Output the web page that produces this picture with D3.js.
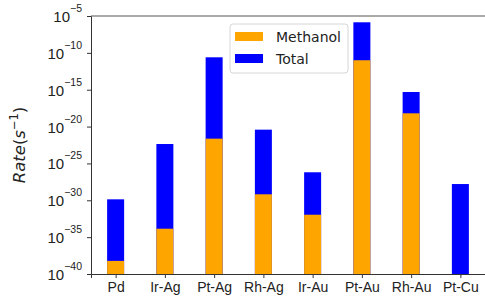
<!DOCTYPE html>
<html>
<head>
<meta charset="utf-8">
<script src="https://cdn.jsdelivr.net/npm/d3@7"></script>
<style>
  body { margin: 0; background: #fff; }
  svg { display: block; font-family: "DejaVu Sans", sans-serif; }
</style>
</head>
<body>
<div id="chart"></div>
<script>
// data (rates in s^-1)
const categories = ["Pd", "Ir-Ag", "Pt-Ag", "Rh-Ag", "Ir-Au", "Pt-Au", "Rh-Au", "Pt-Cu"];
const methanolRate = [6e-39, 1.4e-34, 2.3e-22, 6.5e-30, 1.1e-32, 1e-11, 6.3e-19, null];
const totalRate = [1.35e-30, 4.3e-23, 2.5e-11, 3.8e-21, 6.3e-27, 1.4e-6, 4.9e-16, 1.6e-28];
const yTickExp = [-5, -10, -15, -20, -25, -30, -35, -40];
const seriesNames = ["Methanol", "Total"];
const seriesColors = ["#ffa500", "#0000ff"];

const width = 485, height = 296;
const margin = { left: 91, right: 0, top: 16, bottom: 22 };

const svg = d3.select("#chart").append("svg")
  .attr("width", width).attr("height", height);

// scales
const x = d3.scalePoint()
  .domain(categories)
  .range([margin.left, width - margin.right])
  .padding(0.5);
const y = d3.scaleLog()
  .domain([1e-40, 1e-5])
  .range([height - margin.bottom, margin.top]);
const barW = 17;
const yBase = y.range()[0];

// total bars (blue, from methanol top up to total)
svg.append("g")
  .selectAll("rect")
  .data(categories)
  .join("rect")
  .attr("x", d => x(d) - barW / 2)
  .attr("width", barW)
  .attr("y", (d, i) => y(totalRate[i]))
  .attr("height", (d, i) => yBase - y(totalRate[i]))
  .attr("fill", seriesColors[1]);

// methanol bars (orange)
svg.append("g")
  .selectAll("rect")
  .data(categories.filter((d, i) => methanolRate[i] !== null))
  .join("rect")
  .attr("x", d => x(d) - barW / 2)
  .attr("width", barW)
  .attr("y", d => y(methanolRate[categories.indexOf(d)]))
  .attr("height", d => yBase - y(methanolRate[categories.indexOf(d)]))
  .attr("fill", seriesColors[0]);

// y axis
const yAxis = d3.axisLeft(y)
  .tickValues(yTickExp.map(e => Math.pow(10, e)))
  .tickSize(4)
  .tickFormat("");
const gy = svg.append("g")
  .attr("transform", `translate(${margin.left},0)`)
  .call(yAxis);
gy.select(".domain").attr("stroke", "#333");
gy.selectAll(".tick line").attr("stroke", "#333");
gy.selectAll(".tick").each(function (d) {
  const t = d3.select(this).append("text")
    .attr("x", -9)
    .attr("dy", "0.55em")
    .attr("text-anchor", "end")
    .attr("fill", "#222");
  t.append("tspan").attr("font-size", 15).text("10");
  t.append("tspan").attr("font-size", 10.5).attr("dy", "-0.95em")
    .text("\u2212" + Math.abs(Math.round(Math.log10(d))));
});

// x axis
const gx = svg.append("g")
  .attr("transform", `translate(0,${yBase})`)
  .call(d3.axisBottom(x).tickSize(4).tickPadding(4));
gx.select(".domain").attr("stroke", "#333");
gx.selectAll(".tick line").attr("stroke", "#333");
gx.selectAll(".tick text").attr("font-size", 14).attr("fill", "#222");

// top spine
svg.append("line")
  .attr("x1", margin.left).attr("x2", width)
  .attr("y1", margin.top).attr("y2", margin.top)
  .attr("stroke", "#555");

// y label
const yl = svg.append("text")
  .attr("transform", `translate(25,${(margin.top + yBase) / 2}) rotate(-90)`)
  .attr("text-anchor", "middle")
  .attr("font-size", 16.5)
  .attr("fill", "#222");
yl.append("tspan").attr("font-style", "italic").text("Rate");
yl.append("tspan").text("(");
yl.append("tspan").attr("font-style", "italic").text("s");
yl.append("tspan").attr("font-size", 11.5).attr("dy", "-0.6em").text("\u22121");
yl.append("tspan").attr("dy", "0.4em").text(")");

// legend
const legend = svg.append("g").attr("transform", "translate(230,24)");
legend.append("rect")
  .attr("width", 118).attr("height", 49)
  .attr("rx", 3)
  .attr("fill", "#fff").attr("fill-opacity", 0.8)
  .attr("stroke", "#d6d6d6");
seriesNames.forEach((name, i) => {
  const row = legend.append("g").attr("transform", `translate(5,${8 + i * 22})`);
  row.append("rect").attr("width", 28).attr("height", 9).attr("fill", seriesColors[i]);
  row.append("text")
    .attr("x", 41).attr("y", 5)
    .attr("dy", "0.35em")
    .attr("font-size", 14)
    .attr("fill", "#222")
    .text(name);
});
</script>
</body>
</html>
